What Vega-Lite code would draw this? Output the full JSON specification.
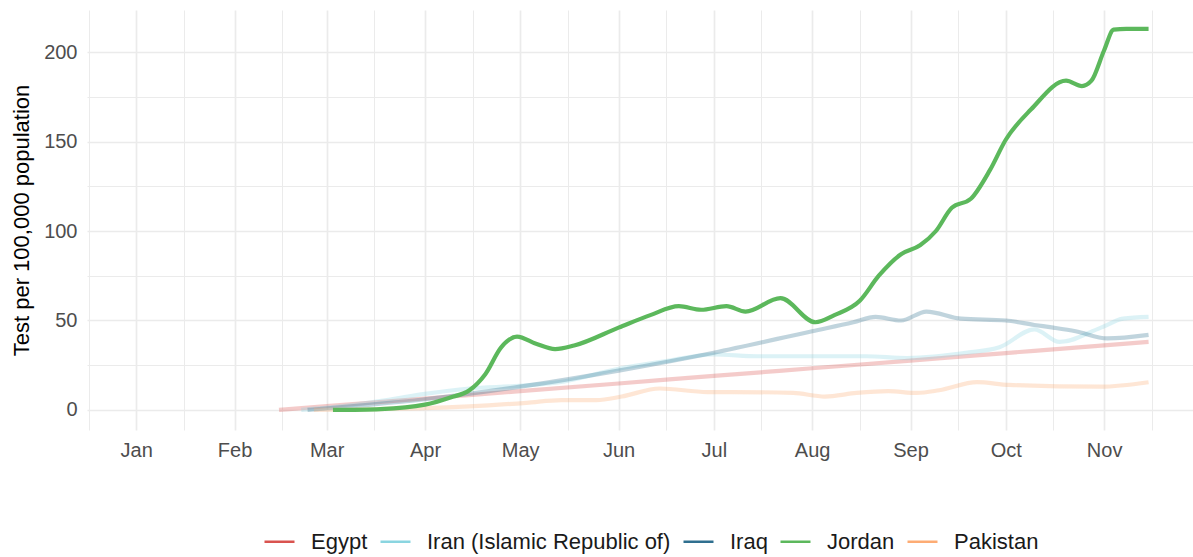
{
  "$schema": "https://vega.github.io/schema/vega-lite/v6.json",
  "autosize": {"type": "none"},
  "width": 1106,
  "height": 420,
  "padding": {"left": 87, "top": 10, "right": 0, "bottom": 127},
  "background": "white",
  "config": {
    "font": "Liberation Sans",
    "view": {"stroke": null},
    "axis": {"domain": false, "ticks": false, "gridColor": "#ebebeb", "labelColor": "#4d4d4d", "labelFontSize": 20, "titleFontSize": 22, "titleFontWeight": "normal", "titleColor": "#000000"}
  },
  "data": {"values": [
    {"country": "Egypt", "date": "2020-02-15", "value": 0},
    {"country": "Egypt", "date": "2020-03-01", "value": 2.1},
    {"country": "Egypt", "date": "2020-04-01", "value": 6.4},
    {"country": "Egypt", "date": "2020-05-01", "value": 10.5},
    {"country": "Egypt", "date": "2020-06-01", "value": 14.8},
    {"country": "Egypt", "date": "2020-07-01", "value": 19.0},
    {"country": "Egypt", "date": "2020-08-01", "value": 23.3},
    {"country": "Egypt", "date": "2020-09-01", "value": 27.6},
    {"country": "Egypt", "date": "2020-10-01", "value": 31.8},
    {"country": "Egypt", "date": "2020-11-01", "value": 36.1},
    {"country": "Egypt", "date": "2020-11-15", "value": 38},
    {"country": "Iran (Islamic Republic of)", "date": "2020-02-22", "value": 0},
    {"country": "Iran (Islamic Republic of)", "date": "2020-03-10", "value": 3},
    {"country": "Iran (Islamic Republic of)", "date": "2020-03-20", "value": 5.5},
    {"country": "Iran (Islamic Republic of)", "date": "2020-04-01", "value": 9},
    {"country": "Iran (Islamic Republic of)", "date": "2020-04-15", "value": 12},
    {"country": "Iran (Islamic Republic of)", "date": "2020-05-01", "value": 13.5},
    {"country": "Iran (Islamic Republic of)", "date": "2020-05-15", "value": 16},
    {"country": "Iran (Islamic Republic of)", "date": "2020-06-01", "value": 23},
    {"country": "Iran (Islamic Republic of)", "date": "2020-06-15", "value": 27},
    {"country": "Iran (Islamic Republic of)", "date": "2020-07-01", "value": 31},
    {"country": "Iran (Islamic Republic of)", "date": "2020-07-15", "value": 30},
    {"country": "Iran (Islamic Republic of)", "date": "2020-08-01", "value": 30},
    {"country": "Iran (Islamic Republic of)", "date": "2020-08-18", "value": 30},
    {"country": "Iran (Islamic Republic of)", "date": "2020-08-31", "value": 29},
    {"country": "Iran (Islamic Republic of)", "date": "2020-09-19", "value": 32},
    {"country": "Iran (Islamic Republic of)", "date": "2020-09-29", "value": 35},
    {"country": "Iran (Islamic Republic of)", "date": "2020-10-10", "value": 45},
    {"country": "Iran (Islamic Republic of)", "date": "2020-10-18", "value": 38},
    {"country": "Iran (Islamic Republic of)", "date": "2020-10-31", "value": 46},
    {"country": "Iran (Islamic Republic of)", "date": "2020-11-07", "value": 51},
    {"country": "Iran (Islamic Republic of)", "date": "2020-11-15", "value": 52},
    {"country": "Iraq", "date": "2020-02-24", "value": 0},
    {"country": "Iraq", "date": "2020-03-15", "value": 3},
    {"country": "Iraq", "date": "2020-04-01", "value": 6},
    {"country": "Iraq", "date": "2020-05-01", "value": 13},
    {"country": "Iraq", "date": "2020-06-01", "value": 22},
    {"country": "Iraq", "date": "2020-07-01", "value": 32},
    {"country": "Iraq", "date": "2020-08-01", "value": 44},
    {"country": "Iraq", "date": "2020-08-14", "value": 49},
    {"country": "Iraq", "date": "2020-08-21", "value": 52},
    {"country": "Iraq", "date": "2020-08-29", "value": 50},
    {"country": "Iraq", "date": "2020-09-06", "value": 55},
    {"country": "Iraq", "date": "2020-09-17", "value": 51},
    {"country": "Iraq", "date": "2020-10-01", "value": 50},
    {"country": "Iraq", "date": "2020-10-10", "value": 47.5},
    {"country": "Iraq", "date": "2020-10-16", "value": 46},
    {"country": "Iraq", "date": "2020-10-23", "value": 44},
    {"country": "Iraq", "date": "2020-11-02", "value": 40},
    {"country": "Iraq", "date": "2020-11-15", "value": 42},
    {"country": "Jordan", "date": "2020-03-03", "value": 0},
    {"country": "Jordan", "date": "2020-03-18", "value": 0.5},
    {"country": "Jordan", "date": "2020-04-01", "value": 3},
    {"country": "Jordan", "date": "2020-04-09", "value": 7},
    {"country": "Jordan", "date": "2020-04-15", "value": 11},
    {"country": "Jordan", "date": "2020-04-20", "value": 20},
    {"country": "Jordan", "date": "2020-04-25", "value": 35},
    {"country": "Jordan", "date": "2020-04-30", "value": 41},
    {"country": "Jordan", "date": "2020-05-06", "value": 37},
    {"country": "Jordan", "date": "2020-05-12", "value": 34},
    {"country": "Jordan", "date": "2020-05-18", "value": 36},
    {"country": "Jordan", "date": "2020-06-01", "value": 46},
    {"country": "Jordan", "date": "2020-06-11", "value": 53},
    {"country": "Jordan", "date": "2020-06-20", "value": 58},
    {"country": "Jordan", "date": "2020-06-27", "value": 56},
    {"country": "Jordan", "date": "2020-07-05", "value": 58},
    {"country": "Jordan", "date": "2020-07-11", "value": 55},
    {"country": "Jordan", "date": "2020-07-22", "value": 62.5},
    {"country": "Jordan", "date": "2020-08-02", "value": 49},
    {"country": "Jordan", "date": "2020-08-08", "value": 53},
    {"country": "Jordan", "date": "2020-08-16", "value": 61},
    {"country": "Jordan", "date": "2020-08-22", "value": 75},
    {"country": "Jordan", "date": "2020-08-29", "value": 87},
    {"country": "Jordan", "date": "2020-09-04", "value": 92},
    {"country": "Jordan", "date": "2020-09-09", "value": 100},
    {"country": "Jordan", "date": "2020-09-14", "value": 113},
    {"country": "Jordan", "date": "2020-09-20", "value": 118},
    {"country": "Jordan", "date": "2020-09-26", "value": 134},
    {"country": "Jordan", "date": "2020-10-01", "value": 151},
    {"country": "Jordan", "date": "2020-10-09", "value": 168},
    {"country": "Jordan", "date": "2020-10-20", "value": 184},
    {"country": "Jordan", "date": "2020-10-25", "value": 181},
    {"country": "Jordan", "date": "2020-10-28", "value": 184},
    {"country": "Jordan", "date": "2020-11-01", "value": 201},
    {"country": "Jordan", "date": "2020-11-04", "value": 212.5},
    {"country": "Jordan", "date": "2020-11-08", "value": 213},
    {"country": "Jordan", "date": "2020-11-15", "value": 213},
    {"country": "Pakistan", "date": "2020-02-26", "value": 0},
    {"country": "Pakistan", "date": "2020-03-15", "value": 0.5},
    {"country": "Pakistan", "date": "2020-04-01", "value": 1},
    {"country": "Pakistan", "date": "2020-04-15", "value": 2},
    {"country": "Pakistan", "date": "2020-05-03", "value": 4},
    {"country": "Pakistan", "date": "2020-05-14", "value": 5.5},
    {"country": "Pakistan", "date": "2020-05-25", "value": 5.5},
    {"country": "Pakistan", "date": "2020-06-02", "value": 7.5},
    {"country": "Pakistan", "date": "2020-06-14", "value": 12},
    {"country": "Pakistan", "date": "2020-06-29", "value": 10},
    {"country": "Pakistan", "date": "2020-07-07", "value": 10},
    {"country": "Pakistan", "date": "2020-07-26", "value": 9.5},
    {"country": "Pakistan", "date": "2020-08-05", "value": 7.5},
    {"country": "Pakistan", "date": "2020-08-15", "value": 9.5},
    {"country": "Pakistan", "date": "2020-08-25", "value": 10.5},
    {"country": "Pakistan", "date": "2020-09-03", "value": 9.5},
    {"country": "Pakistan", "date": "2020-09-10", "value": 11},
    {"country": "Pakistan", "date": "2020-09-22", "value": 15.5},
    {"country": "Pakistan", "date": "2020-10-02", "value": 14},
    {"country": "Pakistan", "date": "2020-10-31", "value": 13},
    {"country": "Pakistan", "date": "2020-11-15", "value": 15.5}
  ]},
  "encoding": {
    "x": {
      "field": "date", "type": "temporal",
      "scale": {"type": "utc", "domain": [{"year": 2019, "month": 12, "date": 16, "hours": 12, "utc": true}, {"year": 2020, "month": 11, "date": 29, "utc": true}]},
      "axis": {
        "title": null,
        "values": [
          {"year": 2019, "month": 12, "date": 17, "utc": true},
          {"year": 2020, "month": 1, "date": 1, "utc": true},
          {"year": 2020, "month": 1, "date": 16, "utc": true},
          {"year": 2020, "month": 2, "date": 1, "utc": true},
          {"year": 2020, "month": 2, "date": 16, "utc": true},
          {"year": 2020, "month": 3, "date": 1, "utc": true},
          {"year": 2020, "month": 3, "date": 16, "utc": true},
          {"year": 2020, "month": 4, "date": 1, "utc": true},
          {"year": 2020, "month": 4, "date": 16, "utc": true},
          {"year": 2020, "month": 5, "date": 1, "utc": true},
          {"year": 2020, "month": 5, "date": 16, "utc": true},
          {"year": 2020, "month": 6, "date": 1, "utc": true},
          {"year": 2020, "month": 6, "date": 16, "utc": true},
          {"year": 2020, "month": 7, "date": 1, "utc": true},
          {"year": 2020, "month": 7, "date": 16, "utc": true},
          {"year": 2020, "month": 8, "date": 1, "utc": true},
          {"year": 2020, "month": 8, "date": 16, "utc": true},
          {"year": 2020, "month": 9, "date": 1, "utc": true},
          {"year": 2020, "month": 9, "date": 16, "utc": true},
          {"year": 2020, "month": 10, "date": 1, "utc": true},
          {"year": 2020, "month": 10, "date": 16, "utc": true},
          {"year": 2020, "month": 11, "date": 1, "utc": true},
          {"year": 2020, "month": 11, "date": 16, "utc": true}
        ],
        "labelExpr": "utcdate(datum.value) === 1 ? utcFormat(datum.value, '%b') : ''",
        "labelPadding": 10,
        "labelFlush": false,
        "labelOverlap": false,
        "gridWidth": {"condition": {"test": "utcdate(datum.value) === 1", "value": 1.7}, "value": 1.0}
      }
    },
    "y": {
      "field": "value", "type": "quantitative",
      "scale": {"domain": [-11.2, 223.5], "nice": false, "zero": false},
      "axis": {
        "title": "Test per 100,000 population",
        "values": [0, 25, 50, 75, 100, 125, 150, 175, 200],
        "labelExpr": "datum.value % 50 === 0 ? datum.label : ''",
        "labelPadding": 10,
        "titlePadding": 10,
        "gridWidth": {"condition": {"test": "datum.value % 50 === 0", "value": 1.7}, "value": 1.0}
      }
    },
    "color": {
      "field": "country", "type": "nominal",
      "scale": {
        "domain": ["Egypt", "Iran (Islamic Republic of)", "Iraq", "Jordan", "Pakistan"],
        "range": ["#d9534f", "#8ad5e0", "#2f6f8f", "#5cb85c", "#fdac74"]
      },
      "legend": {
        "title": null, "orient": "none", "direction": "horizontal",
        "legendX": 176, "legendY": 515,
        "symbolType": "stroke", "symbolStrokeWidth": 2.5, "symbolSize": 900, "symbolOpacity": 1,
        "labelFontSize": 22, "labelColor": "#1a1a1a", "labelOffset": 15, "columnPadding": 7, "labelLimit": 0
      }
    }
  },
  "layer": [
    {
      "transform": [{"filter": "datum.country !== 'Jordan'"}],
      "mark": {"type": "line", "interpolate": "monotone", "strokeWidth": 4.2, "opacity": 0.3, "strokeCap": "butt"}
    },
    {
      "transform": [{"filter": "datum.country === 'Jordan'"}],
      "mark": {"type": "line", "interpolate": "monotone", "strokeWidth": 4.2, "strokeCap": "butt"}
    }
  ]
}
